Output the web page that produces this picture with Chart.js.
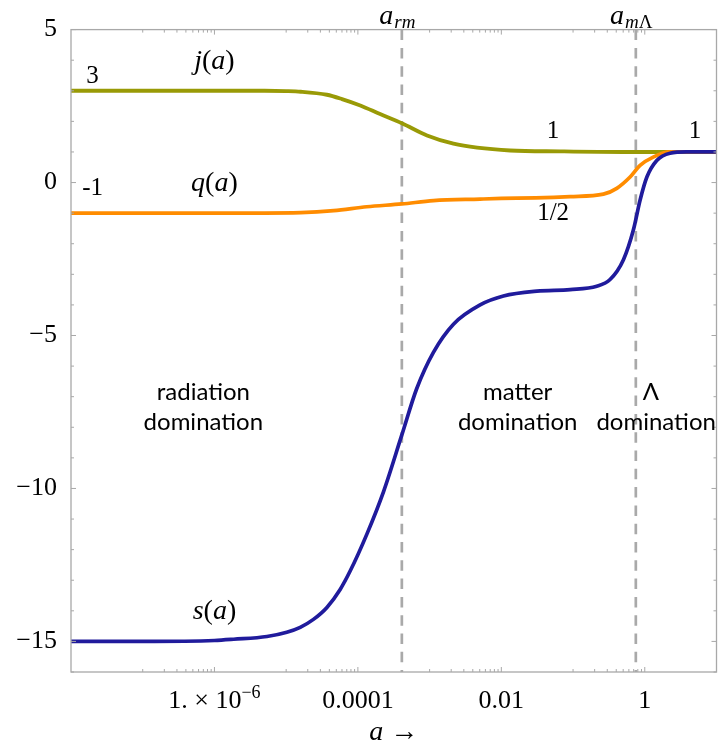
<!DOCTYPE html>
<html><head><meta charset="utf-8">
<script src="https://cdn.jsdelivr.net/npm/chart.js@4"></script>
<style>html,body{margin:0;padding:0;background:#fff}canvas{display:block}</style>
</head><body>
<canvas id="c" width="718" height="749"></canvas>
<script>
// ---- data ----
const sA    = [1e-8, 1e-7, 1e-6, 1.85e-6, 5.4e-6, 1.02e-5, 1.57e-5, 2.4e-5, 3.7e-5, 5.66e-5, 7.8e-5, 1.33e-4, 2.28e-4, 4.1e-4, 6.6e-4, 1.13e-3, 2.15e-3, 5.06e-3, 0.0107, 0.0313, 0.091, 0.214, 0.328, 0.504, 0.693, 0.861, 1.07, 1.47, 2.25, 3.85, 10];
const sVals = [-15, -15, -14.97, -14.93, -14.84, -14.7, -14.54, -14.28, -13.89, -13.3, -12.7, -11.5, -10.1, -8.25, -6.74, -5.55, -4.63, -4.0, -3.71, -3.55, -3.5, -3.39, -3.17, -2.52, -1.55, -0.57, 0.18, 0.72, 0.96, 1.0, 1.0];
const qA    = [1e-8, 1e-6, 1.6e-5, 4.6e-5, 1.33e-4, 4.1e-4, 1.13e-3, 5.06e-3, 0.01, 0.03, 0.091, 0.265, 0.407, 0.624, 0.86, 1.31, 2.25, 10];
const qVals = [-1, -1, -0.98, -0.92, -0.79, -0.70, -0.59, -0.54, -0.52, -0.50, -0.46, -0.38, -0.19, 0.18, 0.56, 0.83, 1.0, 1.0];
const jA    = [1e-8, 1e-7, 1e-6, 5e-6, 1e-5, 1.6e-5, 3.7e-5, 6e-5, 1.08e-4, 2.04e-4, 4.1e-4, 9.2e-4, 2.15e-3, 4.6e-3, 1.33e-2, 6.6e-2, 0.5, 10];
const jVals = [3, 3, 3, 3, 2.99, 2.97, 2.87, 2.73, 2.52, 2.24, 1.94, 1.54, 1.27, 1.14, 1.05, 1.02, 1.0, 1.0];
const aRM = 4.1e-4;      // radiation-matter equality
const aML = 0.75;        // matter-Lambda equality
const xTickVals   = [1e-6, 1e-4, 1e-2, 1];
const xTickLabels = ['1. \u00D7 10^\u22126', '0.0001', '0.01', '1'];
const yTickVals   = [-15, -10, -5, 0, 5];
const yTickLabels = ['\u221215', '\u221210', '\u22125', '0', '5'];

// ---- styling ----
const SERIF = '"Liberation Serif", "Times New Roman", serif';
const SANS = 'Lato, "Open Sans", sans-serif';
const FRAME = '#a8a8a8';

const notes = [
  {a: 2e-8,  v: 3.47,  parts: [['3', 'n']]},
  {a: 1e-6,  v: 3.96,  parts: [['j', 'i'], ['(', 'p'], ['a', 'i'], [')', 'p']]},
  {a: 2e-8,  v: -0.19, parts: [['-1', 'n']]},
  {a: 1e-6,  v: -0.03, parts: [['q', 'i'], ['(', 'p'], ['a', 'i'], [')', 'p']]},
  {a: 0.0527, v: 1.66, parts: [['1', 'n']]},
  {a: 5.0,   v: 1.66,  parts: [['1', 'n']]},
  {a: 0.0527, v: -1.0, parts: [['1/2', 'n']]},
  {a: 1e-6,  v: -14.03, parts: [['s', 'i'], ['(', 'p'], ['a', 'i'], [')', 'p']]},
  {a: 7e-7,  v: -6.85, parts: [['radiation', 's']]},
  {a: 7e-7,  v: -7.82, parts: [['domination', 's']]},
  {a: 0.0169, v: -6.85, parts: [['matter', 's']]},
  {a: 0.0169, v: -7.82, parts: [['domination', 's']]},
  {a: 1.22,  v: -6.85, parts: [['\u039B', 's']]},
  {a: 1.44,  v: -7.82, parts: [['domination', 's']]}
];
const fontFor = {n: '25px ' + SERIF, i: 'italic 28px ' + SERIF, p: '28px ' + SERIF, s: '24px ' + SANS};

function drawParts(ctx, parts, cx, cy) {
  let w = 0;
  parts.forEach(p => { ctx.font = fontFor[p[1]]; w += ctx.measureText(p[0]).width; });
  let x = cx - w / 2;
  ctx.textBaseline = 'middle'; ctx.textAlign = 'left';
  parts.forEach(p => { ctx.font = fontFor[p[1]]; ctx.fillText(p[0], x, cy); x += ctx.measureText(p[0]).width; });
}

function drawSubLabel(ctx, cx, baseY, subParts) {
  const main = 'italic 28px ' + SERIF;
  const sub = p => (p[1] === 'i' ? 'italic ' : '') + '19px ' + SERIF;
  ctx.font = main; let w = ctx.measureText('a').width;
  subParts.forEach(p => { ctx.font = sub(p); w += ctx.measureText(p[0]).width; });
  let x = cx - w / 2;
  ctx.textBaseline = 'alphabetic'; ctx.textAlign = 'left';
  ctx.font = main; ctx.fillText('a', x, baseY); x += ctx.measureText('a').width + 1;
  subParts.forEach(p => { ctx.font = sub(p); ctx.fillText(p[0], x, baseY + 4); x += ctx.measureText(p[0]).width; });
}

function drawTickLabel(ctx, label, cx, baseY) {
  const [base, sup] = label.split('^');
  const bf = '26px ' + SERIF, sf = '18px ' + SERIF;
  ctx.font = bf; let w = ctx.measureText(base).width;
  let ws = 0;
  if (sup) { ctx.font = sf; ws = ctx.measureText(sup).width; }
  let x = cx - (w + ws) / 2;
  ctx.textBaseline = 'alphabetic'; ctx.textAlign = 'left';
  ctx.font = bf; ctx.fillText(base, x, baseY);
  if (sup) { ctx.font = sf; ctx.fillText(sup, x + w, baseY - 10); }
}

const framePlugin = {
  id: 'frame',
  beforeDatasetsDraw(chart) {
    const {ctx, chartArea: ca, scales: {x}} = chart;
    ctx.save();
    ctx.strokeStyle = '#a9a9a9'; ctx.lineWidth = 2.7; ctx.setLineDash([10.5, 7.8]);
    [aRM, aML].forEach(a => {
      const px = x.getPixelForValue(a);
      ctx.beginPath(); ctx.moveTo(px, ca.top); ctx.lineTo(px, ca.bottom); ctx.stroke();
    });
    ctx.restore();
  },
  afterDraw(chart) {
    const {ctx, chartArea: ca, scales: {x, y}} = chart;
    ctx.save();
    ctx.strokeStyle = FRAME; ctx.lineWidth = 1.3;
    ctx.strokeRect(ca.left, ca.top, ca.right - ca.left, ca.bottom - ca.top);
    ctx.lineWidth = 1;
    const xt = [];
    xTickVals.forEach(v => xt.push([v, 5]));
    [-7, -5, -3, -1].forEach(e => { for (let k = 1; k <= 9; k++) xt.push([k * Math.pow(10, e), 3]); });
    xt.forEach(([v, L]) => {
      const px = x.getPixelForValue(v);
      ctx.beginPath();
      ctx.moveTo(px, ca.bottom); ctx.lineTo(px, ca.bottom - L);
      ctx.moveTo(px, ca.top); ctx.lineTo(px, ca.top + L);
      ctx.stroke();
    });
    for (let v = -16; v <= 5; v++) {
      const L = (v % 5 === 0) ? 5 : 3;
      const py = y.getPixelForValue(v);
      ctx.beginPath();
      ctx.moveTo(ca.left, py); ctx.lineTo(ca.left + L, py);
      ctx.moveTo(ca.right, py); ctx.lineTo(ca.right - L, py);
      ctx.stroke();
    }
    ctx.fillStyle = '#000';
    x.ticks.forEach(t => {
      const i = xTickVals.findIndex(v => Math.abs(v - t.value) / v < 1e-6);
      if (i >= 0) drawTickLabel(ctx, xTickLabels[i], x.getPixelForValue(t.value), ca.bottom + 36);
    });
    notes.forEach(n => drawParts(ctx, n.parts, x.getPixelForValue(n.a), y.getPixelForValue(n.v)));
    drawSubLabel(ctx, x.getPixelForValue(aRM) - 5, ca.top - 6, [['rm', 'i']]);
    drawSubLabel(ctx, x.getPixelForValue(aML) - 5, ca.top - 6, [['m', 'i'], ['\u039B', 'n']]);
    drawParts(ctx, [['a', 'i'], [' \u2192', 'p']], (ca.left + ca.right) / 2, 733);
    ctx.restore();
  }
};

const pts = (xs, ys) => xs.map((a, i) => ({x: a, y: ys[i]}));
const line = (label, xs, ys, color, w) => ({
  label, data: pts(xs, ys), borderColor: color, borderWidth: w,
  pointRadius: 0, fill: false, cubicInterpolationMode: 'monotone'
});

new Chart(document.getElementById('c'), {
  type: 'line',
  data: {datasets: [
    line('s(a)', sA, sVals, '#201b9c', 3.7),
    line('q(a)', qA, qVals, '#ff8c00', 3.7),
    line('j(a)', jA, jVals, '#999a06', 3.9)
  ]},
  options: {
    responsive: false, animation: false, devicePixelRatio: 1,
    layout: {padding: {top: 24, right: 1.5, left: 0, bottom: 0}},
    plugins: {legend: {display: false}, tooltip: {enabled: false}},
    scales: {
      x: {
        type: 'logarithmic', min: 1e-8, max: 10,
        grid: {display: false, drawTicks: false}, border: {display: false},
        afterBuildTicks: s => { s.ticks = xTickVals.map(v => ({value: v})); },
        afterFit: s => { s.height = 77; },
        ticks: {display: false, autoSkip: false, maxRotation: 0}
      },
      y: {
        min: -16, max: 5,
        grid: {display: false, drawTicks: false}, border: {display: false},
        afterBuildTicks: s => { s.ticks = yTickVals.map(v => ({value: v})); },
        afterFit: s => { s.width = 71; },
        ticks: {
          padding: 14, color: '#000', font: {family: SERIF, size: 26},
          callback: v => { const i = yTickVals.indexOf(v); return i >= 0 ? yTickLabels[i] : ''; }
        }
      }
    }
  },
  plugins: [framePlugin]
});
</script>
</body></html>
